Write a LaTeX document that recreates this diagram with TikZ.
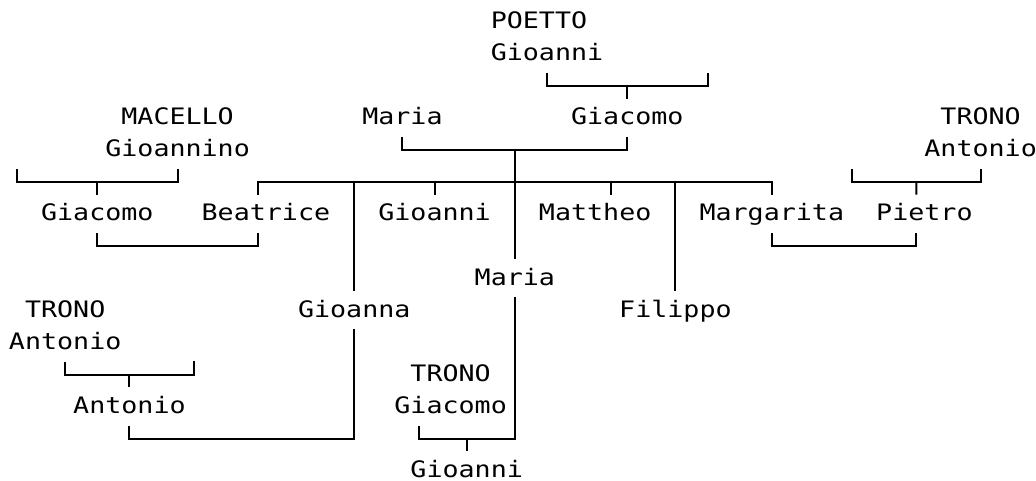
\documentclass[tikz,border=0pt]{standalone}
\usepackage{fontspec}
\usepackage{tikz}
\newfontfamily\treefont[FakeStretch=1.177]{DejaVu Sans Mono}

\tikzset{
  person/.style={anchor=base, inner sep=0pt, text height=19.5pt, text depth=9pt,
    font={\treefont\fontsize{17pt}{20pt}\selectfont}},
  kin/.style={line width=1.5pt}
}

\begin{document}
\begin{tikzpicture}[x=0.75pt,y=0.75pt,yscale=-1,xscale=1]
\useasboundingbox (0,0) rectangle (1036,481);

% Text Node
\draw (538.95,28.6) node [person] (poetto) {POETTO};
% Text Node
\draw (546.98,60.7) node [person] (gioanniP) {Gioanni};
% Text Node
\draw (177.6,124.8) node [person] (macello) {MACELLO};
% Text Node
\draw (177.6,156.9) node [person] (gioannino) {Gioannino};
% Text Node
\draw (402.44,124.8) node [person] (mariaA) {Maria};
% Text Node
\draw (627.28,124.8) node [person] (giacomoP) {Giacomo};
% Text Node
\draw (980.6,124.8) node [person] (tronoR) {TRONO};
% Text Node
\draw (980.6,156.9) node [person] (antonioR) {Antonio};
% Text Node
\draw (97.3,221) node [person] (giacomoM) {Giacomo};
% Text Node
\draw (265.93,221) node [person] (beatrice) {Beatrice};
% Text Node
\draw (434.56,221) node [person] (gioanniB) {Gioanni};
% Text Node
\draw (595.16,221) node [person] (mattheo) {Mattheo};
% Text Node
\draw (771.82,221) node [person] (margarita) {Margarita};
% Text Node
\draw (924.39,221) node [person] (pietro) {Pietro};
% Text Node
\draw (514.86,285.2) node [person] (mariaC) {Maria};
% Text Node
\draw (65.18,317.2) node [person] (tronoL) {TRONO};
% Text Node
\draw (354.26,317.2) node [person] (gioanna) {Gioanna};
% Text Node
\draw (675.46,317.2) node [person] (filippo) {Filippo};
% Text Node
\draw (65.18,349.3) node [person] (antonioL) {Antonio};
% Text Node
\draw (450.62,381.4) node [person] (tronoG) {TRONO};
% Text Node
\draw (129.42,413.4) node [person] (antonioB) {Antonio};
% Text Node
\draw (450.62,413.4) node [person] (giacomoT) {Giacomo};
% Text Node
\draw (466.68,477.6) node [person] (gioanniT) {Gioanni};

% free ends and joints
\coordinate (w2) at (707.58,72.7);
\coordinate (m2) at (627.28,85.9);
\coordinate (m4) at (514.86,150.1);
\coordinate (k5) at (514.86,182.2);
\coordinate (w5) at (17,169);
\coordinate (m5) at (97.3,182.2);
\coordinate (w5r) at (852.12,169);
\coordinate (m5r) at (916.36,182.2);
\coordinate (u7) at (177.6,246.3);
\coordinate (u7r) at (850,246.3);
\coordinate (w11) at (193.66,361.4);
\coordinate (m11) at (129.42,374.6);
\coordinate (u13) at (241.84,438.7);
\coordinate (m13) at (466.68,438.7);

%Straight Lines
\draw [kin] (gioanniP.south) |- (m2) -| (w2);
\draw [kin] (m2) -- (giacomoP.north);
%Straight Lines
\draw [kin] (mariaA.south) |- (m4) -| (giacomoP.south);
\draw [kin] (m4) -- (mariaC.north);
%Straight Lines
\draw [kin] (w5) |- (m5) -| (gioannino.south);
\draw [kin] (m5) -- (giacomoM.north);
%Straight Lines
\draw [kin] ([xshift=-6.02pt]beatrice.north) |- (k5) -| (margarita.north);
\draw [kin] (gioanna.north) -- (gioanna.north |- k5);
\draw [kin] (gioanniB.north) -- (gioanniB.north |- k5);
\draw [kin] ([xshift=12.05pt]mattheo.north) -- ([xshift=12.05pt]mattheo.north |- k5);
\draw [kin] (filippo.north) -- (filippo.north |- k5);
%Straight Lines
\draw [kin] (giacomoM.south) |- (u7) -| ([xshift=-6.02pt]beatrice.south);
%Straight Lines
\draw [kin] (w5r) |- (m5r) -| (antonioR.south);
\draw [kin] (m5r) -- ([xshift=-6.02pt]pietro.north);
%Straight Lines
\draw [kin] (margarita.south) |- (u7r) -| ([xshift=-6.02pt]pietro.south);
%Straight Lines
\draw [kin] (antonioL.south) |- (m11) -| (w11);
\draw [kin] (m11) -- (antonioB.north);
%Straight Lines
\draw [kin] (antonioB.south) |- (u13) -| (gioanna.south);
%Straight Lines
\draw [kin] ([xshift=-24.09pt]giacomoT.south) |- (m13) -| (mariaC.south);
\draw [kin] (m13) -- (gioanniT.north);

\end{tikzpicture}
\end{document}
